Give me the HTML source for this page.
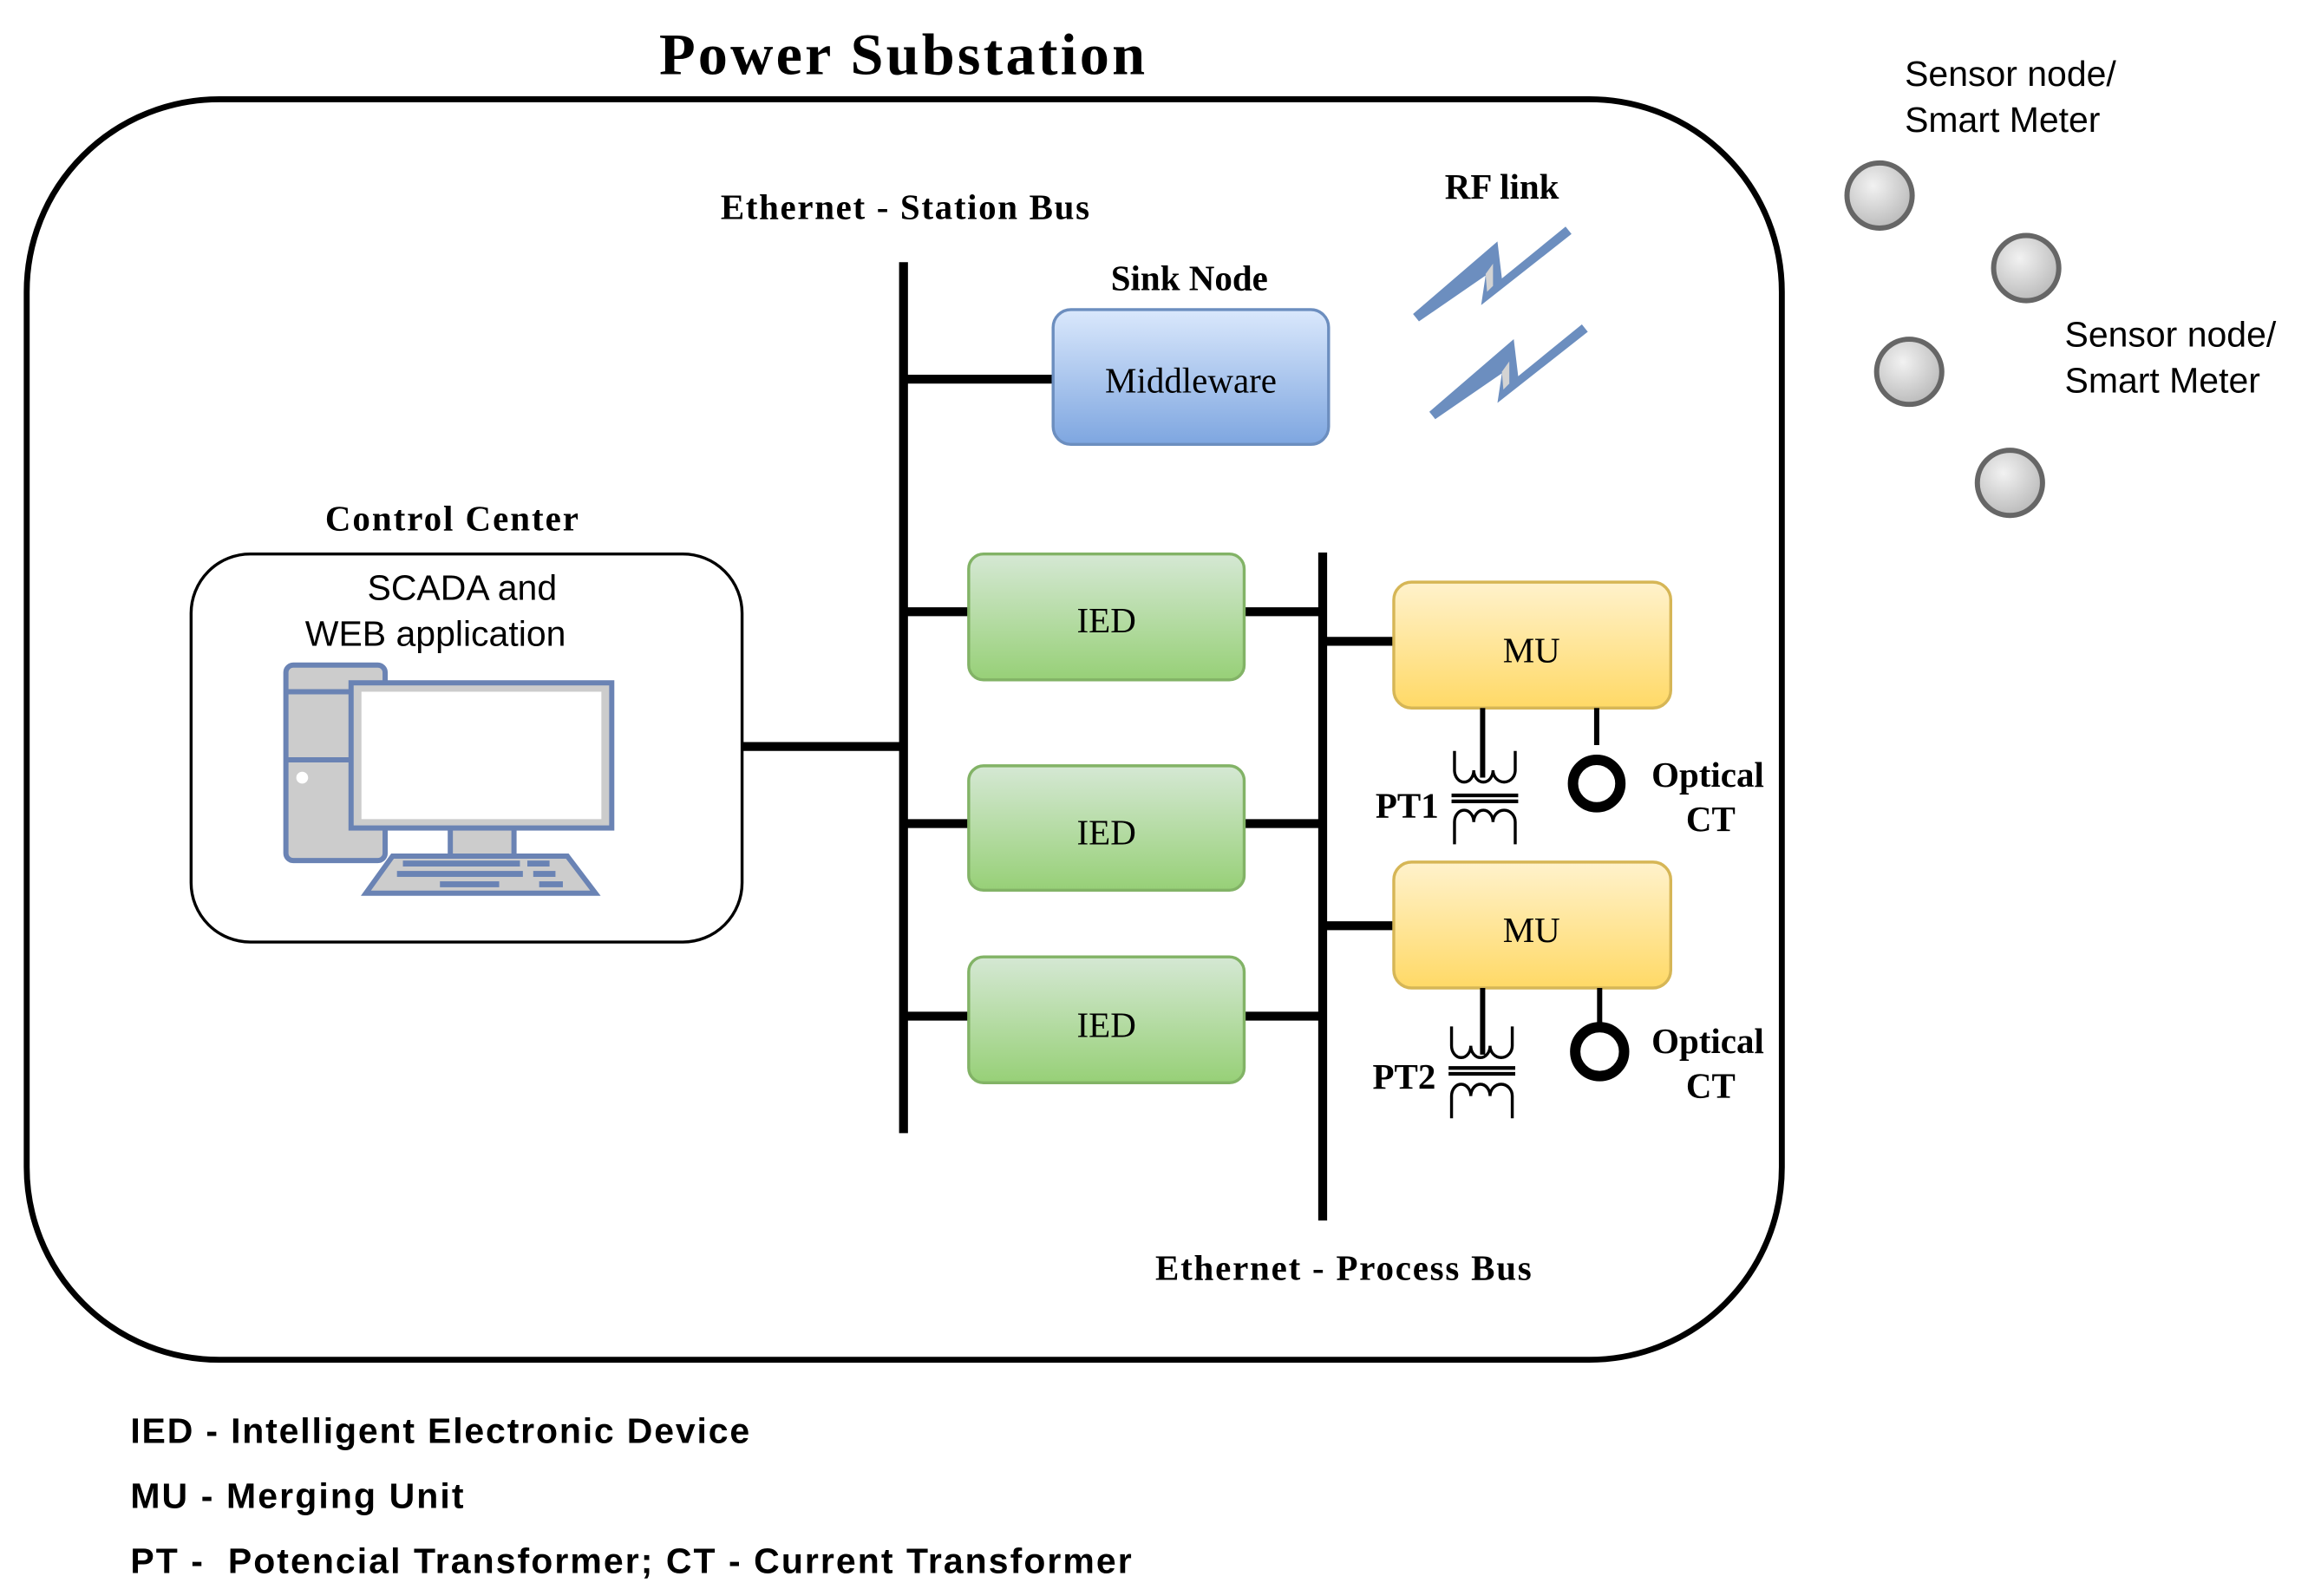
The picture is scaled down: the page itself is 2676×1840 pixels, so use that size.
<!DOCTYPE html>
<html><head><meta charset="utf-8"><style>html,body{margin:0;padding:0;background:#fff}svg{display:block}</style></head>
<body>
<svg width="2676" height="1840" viewBox="0 0 1567 1077.5" xmlns="http://www.w3.org/2000/svg">
<defs>
<linearGradient id="gb" x1="0" y1="0" x2="0" y2="1"><stop offset="0" stop-color="#dae8fc"/><stop offset="1" stop-color="#7ea6e0"/></linearGradient>
<linearGradient id="gg" x1="0" y1="0" x2="0" y2="1"><stop offset="0" stop-color="#d5e8d4"/><stop offset="1" stop-color="#97d077"/></linearGradient>
<linearGradient id="gy" x1="0" y1="0" x2="0" y2="1"><stop offset="0" stop-color="#fff2cc"/><stop offset="1" stop-color="#ffd966"/></linearGradient>
<radialGradient id="gs" cx="0.4" cy="0.35" r="0.7"><stop offset="0" stop-color="#f2f2f2"/><stop offset="1" stop-color="#b8b8b8"/></radialGradient>
</defs>
<g font-family="'Liberation Serif',serif" font-weight="bold" fill="#000" text-anchor="middle">
<text x="609" y="50" font-size="40" textLength="328">Power Substation</text>
<text x="611" y="148" font-size="24" textLength="249">Ethernet - Station Bus</text>
<text x="1014" y="134" font-size="24">RF link</text>
<text x="803" y="196" font-size="24">Sink Node</text>
<text x="305" y="358" font-size="24" textLength="171">Control Center</text>
<text x="907" y="864" font-size="24" textLength="254">Ethernet - Process Bus</text>
<text x="950" y="552" font-size="24">PT1</text>
<text x="948" y="735" font-size="24">PT2</text>
<text x="1153" y="531" font-size="24">Optical</text>
<text x="1155" y="561" font-size="24">CT</text>
<text x="1153" y="711" font-size="24">Optical</text>
<text x="1155" y="741" font-size="24">CT</text>
</g>
<rect x="18" y="67" width="1185" height="851" rx="130" fill="none" stroke="#000" stroke-width="4"/>
<g stroke="#000" stroke-width="6">
<line x1="610" y1="177" x2="610" y2="765"/>
<line x1="893" y1="373" x2="893" y2="824"/>
<line x1="610" y1="256" x2="711" y2="256"/>
<line x1="501" y1="504" x2="610" y2="504"/>
<line x1="610" y1="413" x2="654" y2="413"/><line x1="840" y1="413" x2="893" y2="413"/>
<line x1="610" y1="556" x2="654" y2="556"/><line x1="840" y1="556" x2="893" y2="556"/>
<line x1="610" y1="686" x2="654" y2="686"/><line x1="840" y1="686" x2="893" y2="686"/>
<line x1="893" y1="433" x2="941" y2="433"/><line x1="893" y1="625" x2="941" y2="625"/>
</g>
<rect x="711" y="209" width="186" height="91" rx="12" fill="url(#gb)" stroke="#6c8ebf" stroke-width="2"/>
<text x="804" y="265" font-family="'Liberation Serif',serif" font-size="24" text-anchor="middle">Middleware</text>
<g stroke="#82b366" stroke-width="2" fill="url(#gg)">
<rect x="654" y="374" width="186" height="85" rx="10"/>
<rect x="654" y="517" width="186" height="84" rx="10"/>
<rect x="654" y="646" width="186" height="85" rx="10"/>
</g>
<g stroke="#d6b656" stroke-width="2" fill="url(#gy)">
<rect x="941" y="393" width="187" height="85" rx="12"/>
<rect x="941" y="582" width="187" height="85" rx="12"/>
</g>
<g font-family="'Liberation Serif',serif" font-size="24" text-anchor="middle">
<text x="747" y="427">IED</text><text x="747" y="570">IED</text><text x="747" y="700">IED</text>
<text x="1034" y="447">MU</text><text x="1034" y="636">MU</text>
</g>
<g stroke="#000" fill="none">
<line x1="1001" y1="478" x2="1001" y2="525" stroke-width="3.5"/>
<line x1="1078" y1="478" x2="1078" y2="503" stroke-width="3.5"/>
<circle cx="1078" cy="529" r="16" stroke-width="7"/>
<path d="M982 507 V520 a6.5 8 0 0 0 13 0 a6.5 8 0 0 0 13 0 a7.5 8 0 0 0 15 0 V507" stroke-width="2"/>
<line x1="980" y1="537" x2="1025" y2="537" stroke-width="2.5"/><line x1="980" y1="541" x2="1025" y2="541" stroke-width="2.5"/>
<path d="M982 570 V555 a6.5 8 0 0 1 13 0 a6.5 8 0 0 1 13 0 a7.5 8 0 0 1 15 0 V570" stroke-width="2"/>
<line x1="1001" y1="667" x2="1001" y2="712" stroke-width="3.5"/>
<line x1="1080" y1="667" x2="1080" y2="693" stroke-width="3.5"/>
<circle cx="1080" cy="710" r="16.5" stroke-width="7"/>
<path d="M980 693 V706 a6.5 8 0 0 0 13 0 a6.5 8 0 0 0 13 0 a7.5 8 0 0 0 15 0 V693" stroke-width="2"/>
<line x1="978" y1="721" x2="1023" y2="721" stroke-width="2.5"/><line x1="978" y1="725" x2="1023" y2="725" stroke-width="2.5"/>
<path d="M980 755 V740 a6.5 8 0 0 1 13 0 a6.5 8 0 0 1 13 0 a7.5 8 0 0 1 15 0 V755" stroke-width="2"/>
</g>
<g fill="#6c8ebf">
<polygon points="954,212 1011,163 1014,188 1057,153 1061,158 1000,206 1003,186 958,217"/>
<polygon points="965,278 1022,229 1025,254 1068,219 1072,224 1011,272 1014,252 969,283"/>
</g>
<g fill="#d3d3d3">
<polygon points="1003,185 1008,178 1008,193 1004,197"/>
<polygon points="1014,251 1019,244 1019,259 1015,263"/>
</g>
<rect x="129" y="374" width="372" height="262" rx="40" fill="#fff" stroke="#000" stroke-width="2"/>
<g font-family="'Liberation Sans',sans-serif" font-size="24" text-anchor="middle">
<text x="312" y="405">SCADA and</text>
<text x="294" y="436">WEB application</text>
</g>
<g stroke="#6a83b4" stroke-width="3.5" fill="#cccccc">
<rect x="193" y="449" width="67" height="132" rx="5"/>
<line x1="193" y1="467" x2="260" y2="467"/><line x1="193" y1="513" x2="260" y2="513"/>
<rect x="304" y="557" width="43" height="22"/>
<polygon points="265,578 383,578 402,603 247,603"/>
<rect x="237" y="461" width="176" height="98"/>
</g>
<rect x="244" y="467" width="162" height="86" fill="#fff"/>
<circle cx="204" cy="525" r="4" fill="#fff"/>
<g fill="#6a83b4">
<rect x="272" y="581" width="79" height="4"/><rect x="356" y="581" width="15" height="4"/>
<rect x="268" y="588" width="85" height="4"/><rect x="360" y="588" width="15" height="4"/>
<rect x="297" y="595" width="40" height="4"/><rect x="364" y="595" width="16" height="4"/>
</g>
<g fill="url(#gs)" stroke="#666" stroke-width="3.5">
<circle cx="1269" cy="132" r="22"/><circle cx="1368" cy="181" r="22"/>
<circle cx="1289" cy="251" r="22"/><circle cx="1357" cy="326" r="22"/>
</g>
<g font-family="'Liberation Sans',sans-serif" font-size="24">
<text x="1286" y="58">Sensor node/</text><text x="1286" y="89">Smart Meter</text>
<text x="1394" y="234">Sensor node/</text><text x="1394" y="265">Smart Meter</text>
</g>
<g font-family="'Liberation Sans',sans-serif" font-size="24" font-weight="bold">
<text x="88" y="974" textLength="418">IED - Intelligent Electronic Device</text>
<text x="88" y="1018" textLength="225">MU - Merging Unit</text>
<text x="88" y="1062" textLength="676" xml:space="preserve">PT -  Potencial Transformer; CT - Current Transformer</text>
</g>
</svg>
</body></html>
